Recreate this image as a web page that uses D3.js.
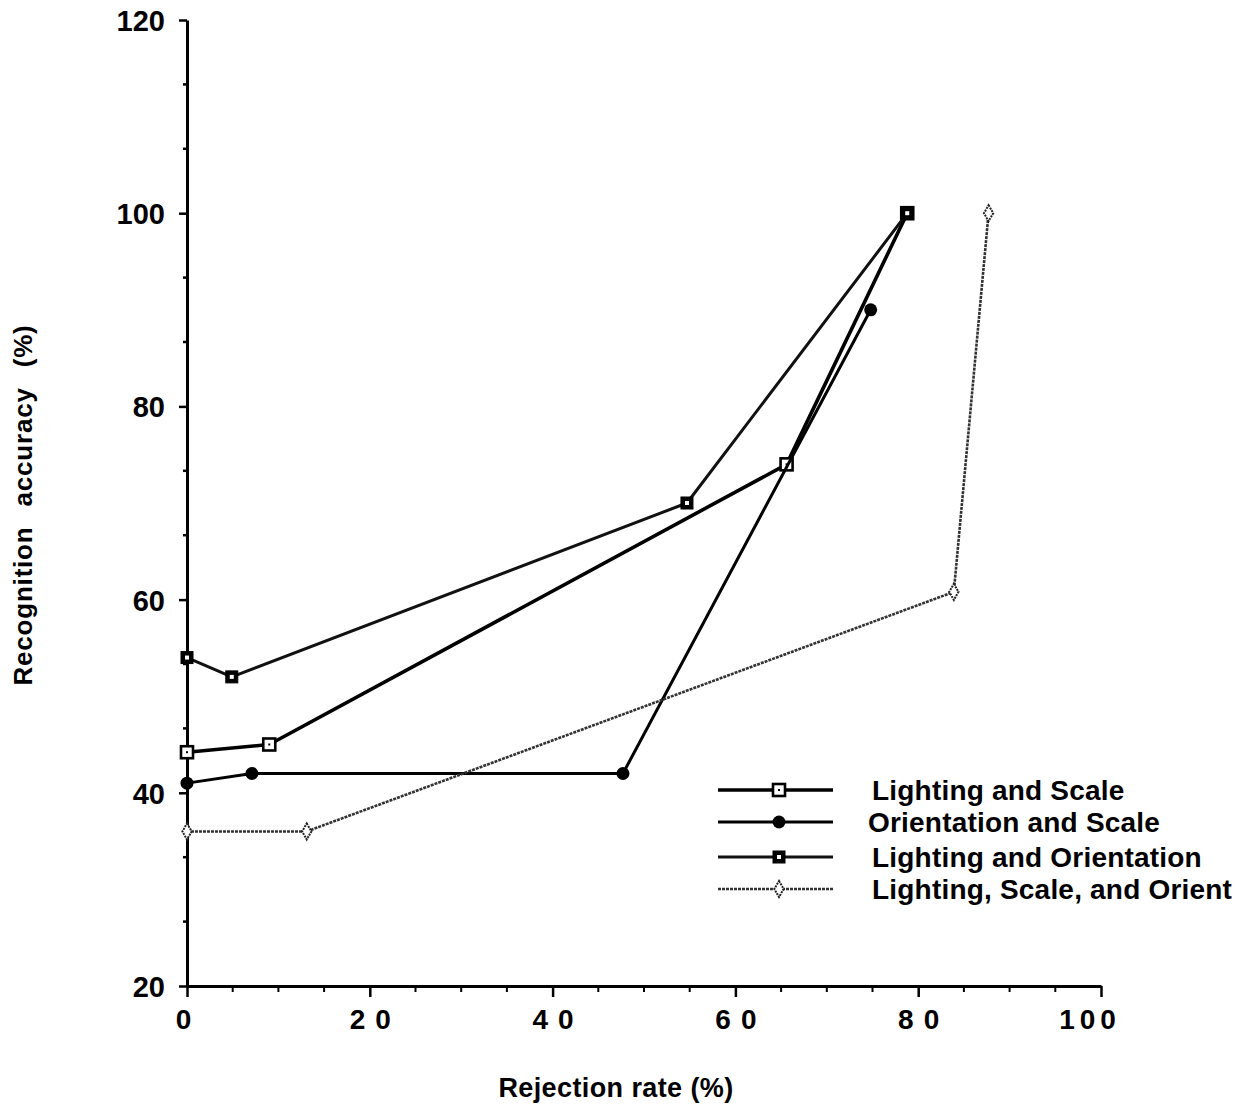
<!DOCTYPE html>
<html>
<head>
<meta charset="utf-8">
<script src="https://cdn.jsdelivr.net/npm/d3@7"></script>
<style>
  html, body { margin: 0; padding: 0; background: #fff; }
  svg { display: block; font-family: "Liberation Sans", Arial, Helvetica, sans-serif; font-weight: bold; }
</style>
</head>
<body>
<svg id="chart" width="1251" height="1110"></svg>
<script>
// ---- Data ----
const seriesNames = ["Lighting and Scale", "Orientation and Scale", "Lighting and Orientation", "Lighting, Scale, and Orient"];
const lightingScaleX = [0, 9, 65.6, 78.8];
const lightingScaleY = [44.2, 45, 74, 100];
const orientationScaleX = [0, 7.1, 47.7, 74.8];
const orientationScaleY = [41, 42, 42, 90];
const lightingOrientationX = [0, 4.9, 54.7, 78.8];
const lightingOrientationY = [54, 52, 70, 100];
const allThreeX = [0, 13.1, 83.9, 87.7];
const allThreeY = [36, 36, 60.8, 100];
const xTicks = [0, 20, 40, 60, 80, 100];
const yTicks = [20, 40, 60, 80, 100, 120];

const svg = d3.select("#chart");
const x = d3.scaleLinear().domain([0, 100]).range([187, 1101]);
const y = d3.scaleLinear().domain([20, 120]).range([986, 20]);

// ---- Axes ----
const xMinor = d3.range(0, 101, 5).filter(v => v % 20 !== 0);
const yMinor = d3.range(20, 120, 20 / 3).filter((v, i) => i % 3 !== 0);

const gx = svg.append("g").attr("transform", `translate(0,${y(20)})`)
  .call(d3.axisBottom(x).tickValues(xTicks).tickSize(11).tickSizeOuter(0).tickFormat(d3.format("d")).tickPadding(12));
gx.select(".domain").attr("stroke", "#000").attr("stroke-width", 3);
gx.selectAll(".tick line").attr("stroke", "#000").attr("stroke-width", 2.5);
gx.selectAll(".tick text")
  .attr("font-size", 28).attr("font-weight", "bold").attr("fill", "#000")
  .attr("font-family", "Liberation Sans, Arial, sans-serif")
  .attr("letter-spacing", d => d === 100 ? "5px" : "10px")
  .attr("dx", d => d === 100 ? -11.5 : (d === 0 ? 1 : 5));
gx.selectAll(".tick").filter(d => d === 0).select("line").attr("y1", -7);
svg.append("g").selectAll("line").data(xMinor).join("line")
  .attr("x1", d => x(d)).attr("x2", d => x(d))
  .attr("y1", y(20)).attr("y2", y(20) + 6)
  .attr("stroke", "#000").attr("stroke-width", 2);

const gy = svg.append("g").attr("transform", `translate(${x(0)},0)`)
  .call(d3.axisLeft(y).tickValues(yTicks).tickSize(8).tickSizeOuter(0).tickFormat(d3.format("d")).tickPadding(14));
gy.select(".domain").attr("stroke", "#000").attr("stroke-width", 3);
gy.selectAll(".tick line").attr("stroke", "#000").attr("stroke-width", 2.5);
gy.selectAll(".tick text")
  .attr("font-size", 29).attr("font-weight", "bold").attr("fill", "#000")
  .attr("font-family", "Liberation Sans, Arial, sans-serif")
  .attr("dy", "0.36em");
svg.append("g").selectAll("line").data(yMinor).join("line")
  .attr("x1", x(0) - 4).attr("x2", x(0))
  .attr("y1", d => y(d)).attr("y2", d => y(d))
  .attr("stroke", "#000").attr("stroke-width", 2.5);

// ---- Axis labels ----
svg.append("text")
  .attr("x", 616).attr("y", 1097)
  .attr("text-anchor", "middle")
  .attr("font-size", 27).attr("letter-spacing", "0.4px")
  .text("Rejection rate (%)");
svg.append("text")
  .attr("transform", "translate(32,505) rotate(-90)")
  .attr("text-anchor", "middle")
  .attr("font-size", 26).attr("letter-spacing", "0.8px").attr("word-spacing", "12px")
  .text("Recognition accuracy (%)");

// ---- Series ----
const series = [
  { name: seriesNames[0], xs: lightingScaleX, ys: lightingScaleY, width: 3.6, color: "#000", dash: null, marker: "openSquare" },
  { name: seriesNames[1], xs: orientationScaleX, ys: orientationScaleY, width: 3, color: "#000", dash: null, marker: "circle" },
  { name: seriesNames[2], xs: lightingOrientationX, ys: lightingOrientationY, width: 3, color: "#111", dash: null, marker: "filledSquare" },
  { name: seriesNames[3], xs: allThreeX, ys: allThreeY, width: 2.6, color: "#333", dash: "3,1", marker: "diamond" }
];

const line = d3.line().x(d => x(d[0])).y(d => y(d[1]));

function drawMarker(g, type, cx, cy) {
  if (type === "openSquare") {
    g.append("rect").attr("x", cx - 6).attr("y", cy - 6).attr("width", 12).attr("height", 12)
      .attr("fill", "#fff").attr("stroke", "#000").attr("stroke-width", 2.6);
    g.append("rect").attr("x", cx - 1).attr("y", cy - 1).attr("width", 2).attr("height", 2).attr("fill", "#000");
  } else if (type === "filledSquare") {
    g.append("rect").attr("x", cx - 6).attr("y", cy - 6).attr("width", 12).attr("height", 12)
      .attr("fill", "#000").attr("stroke", "#000").attr("stroke-width", 1);
    g.append("rect").attr("x", cx - 2).attr("y", cy - 2).attr("width", 4).attr("height", 4).attr("fill", "#fff");
  } else if (type === "circle") {
    g.append("circle").attr("cx", cx).attr("cy", cy).attr("r", 6.5).attr("fill", "#000");
  } else if (type === "diamond") {
    g.append("path").attr("d", d3.symbol(d3.symbolDiamond, 75)())
      .attr("transform", `translate(${cx},${cy})`)
      .attr("fill", "#fff").attr("stroke", "#222").attr("stroke-width", 2).attr("stroke-dasharray", "2,1");
  }
}

series.forEach(s => {
  const pts = s.xs.map((v, i) => [v, s.ys[i]]);
  const g = svg.append("g");
  g.append("path").datum(pts).attr("d", line)
    .attr("fill", "none").attr("stroke", s.color).attr("stroke-width", s.width)
    .attr("stroke-linejoin", "round")
    .attr("stroke-dasharray", s.dash);
  pts.forEach(p => drawMarker(g, s.marker, x(p[0]), y(p[1])));
});

// ---- Legend ----
const legendY = [790, 822, 857, 889];
const legendTextX = [872, 868, 872, 872];
const lg = svg.append("g");
series.forEach((s, i) => {
  const g = lg.append("g");
  g.append("line").attr("x1", 718).attr("x2", 833).attr("y1", legendY[i]).attr("y2", legendY[i])
    .attr("stroke", s.color).attr("stroke-width", s.width).attr("stroke-dasharray", s.dash);
  drawMarker(g, s.marker, 779, legendY[i]);
  g.append("text").attr("x", legendTextX[i]).attr("y", legendY[i] + 10)
    .attr("font-size", 28).attr("letter-spacing", "0.2px")
    .text(s.name);
});
</script>
</body>
</html>
